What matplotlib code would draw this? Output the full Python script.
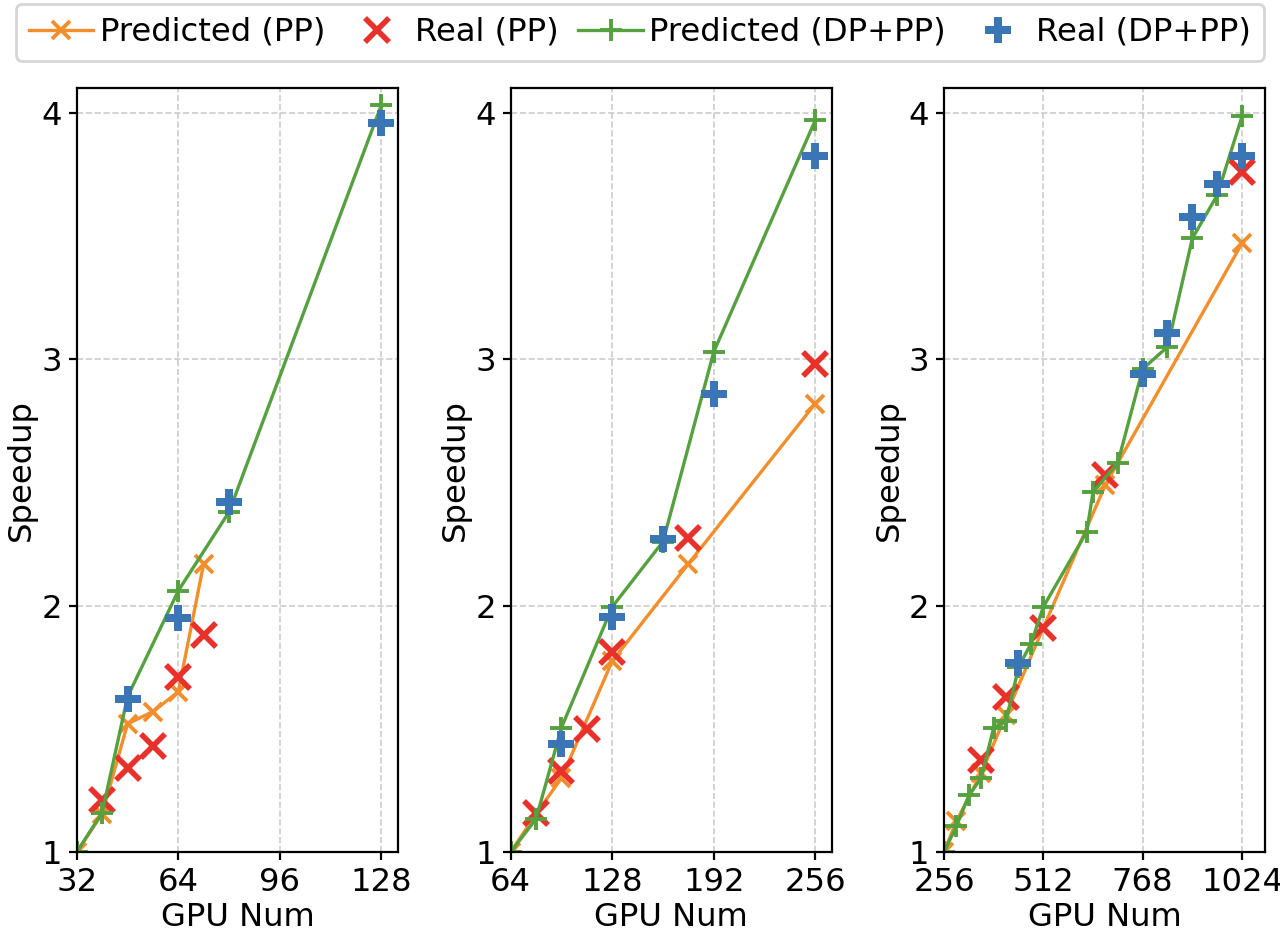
import matplotlib
matplotlib.use("Agg")
import matplotlib.pyplot as plt

plt.rcParams['font.family'] = ['DejaVu Sans']
plt.rcParams['font.size'] = 11.6
plt.rcParams['xtick.major.size'] = 2.8
plt.rcParams['ytick.major.size'] = 2.8
plt.rcParams['xtick.major.pad'] = 2.5
plt.rcParams['ytick.major.pad'] = 2.5
plt.rcParams['axes.labelpad'] = 1.5

# colours
c_pred_pp = '#f28e2b'
c_real_pp = '#e8312a'
c_pred_dp = '#55a03f'
c_real_dp = '#3a75b5'

# panel 1: 32 -> 128 GPUs
pp1_pred_x = [32, 40, 48, 56, 64, 72]
pp1_pred_y = [1.0, 1.155, 1.52, 1.57, 1.65, 2.17]
pp1_real_x = [40, 48, 56, 64, 72]
pp1_real_y = [1.21, 1.34, 1.43, 1.71, 1.88]
dp1_pred_x = [32, 40, 48, 64, 80, 128]
dp1_pred_y = [1.0, 1.16, 1.63, 2.06, 2.38, 4.03]
dp1_real_x = [48, 64, 80, 128]
dp1_real_y = [1.62, 1.95, 2.42, 3.96]
ticks1 = [32, 64, 96, 128]

# panel 2: 64 -> 256 GPUs
pp2_pred_x = [64, 80, 96, 128, 176, 256]
pp2_pred_y = [1.0, 1.155, 1.30, 1.775, 2.17, 2.82]
pp2_real_x = [80, 96, 112, 128, 176, 256]
pp2_real_y = [1.16, 1.33, 1.50, 1.81, 2.275, 2.98]
dp2_pred_x = [64, 80, 96, 128, 160, 192, 256]
dp2_pred_y = [1.0, 1.135, 1.505, 1.995, 2.26, 3.03, 3.97]
dp2_real_x = [96, 128, 160, 192, 256]
dp2_real_y = [1.44, 1.955, 2.27, 2.86, 3.825]
ticks2 = [64, 128, 192, 256]

# panel 3: 256 -> 1024 GPUs
pp3_pred_x = [256, 288, 352, 416, 512, 672, 1024]
pp3_pred_y = [1.0, 1.125, 1.32, 1.558, 1.91, 2.49, 3.47]
pp3_real_x = [352, 416, 512, 672, 1024]
pp3_real_y = [1.375, 1.63, 1.91, 2.53, 3.76]
dp3_pred_x = [256, 288, 320, 352, 384, 416, 448, 480, 512, 624, 640, 704, 768, 832, 896, 960, 1024]
dp3_pred_y = [1.0, 1.105, 1.23, 1.30, 1.505, 1.53, 1.75, 1.845, 1.995, 2.30, 2.46, 2.58, 2.96, 3.05, 3.49, 3.665, 3.985]
dp3_real_x = [448, 768, 832, 896, 960, 1024]
dp3_real_y = [1.768, 2.94, 3.105, 3.575, 3.71, 3.825]
ticks3 = [256, 512, 768, 1024]

panels = [
    (pp1_pred_x, pp1_pred_y, pp1_real_x, pp1_real_y, dp1_pred_x, dp1_pred_y, dp1_real_x, dp1_real_y, ticks1, 133.3),
    (pp2_pred_x, pp2_pred_y, pp2_real_x, pp2_real_y, dp2_pred_x, dp2_pred_y, dp2_real_x, dp2_real_y, ticks2, 266.5),
    (pp3_pred_x, pp3_pred_y, pp3_real_x, pp3_real_y, dp3_pred_x, dp3_pred_y, dp3_real_x, dp3_real_y, ticks3, 1084),
]

fig = plt.figure(figsize=(6.4, 4.66), dpi=200)
lefts = [0.060, 0.399, 0.7375]

for left, p in zip(lefts, panels):
    ppx, ppy, prx, pry, dpx, dpy, drx, dry, ticks, xmax = p
    ax = fig.add_axes([left, 0.0858, 0.251, 0.8197])
    ax.plot(ppx, ppy, color=c_pred_pp, marker='x', ms=6.5, mew=1.4, lw=1.2,
            label='Predicted (PP)')
    ax.plot(prx, pry, color=c_real_pp, marker='x', ms=8.5, mew=2.0, ls='none',
            label='Real (PP)')
    ax.plot(dpx, dpy, color=c_pred_dp, marker='+', ms=8, mew=1.4, lw=1.2,
            label='Predicted (DP+PP)')
    ax.plot(drx, dry, color=c_real_dp, marker='P', ms=9.5, mew=0, ls='none',
            label='Real (DP+PP)')
    ax.set_xticks(ticks)
    ax.set_xlim(ticks[0], xmax)
    ax.set_yticks([1, 2, 3, 4])
    ax.set_ylim(1, 4.1)
    ax.grid(True, ls='--', color='#cccccc', lw=0.6)
    ax.set_axisbelow(True)
    ax.set_xlabel('GPU Num')
    ax.set_ylabel('Speedup')

handles, labels = ax.get_legend_handles_labels()
fig.legend(handles, labels, loc='upper center', ncol=4,
           bbox_to_anchor=(0.5, 1.013), handlelength=2.0, columnspacing=0.6,
           handletextpad=0.2)

fig.savefig('out.png', dpi=200)
